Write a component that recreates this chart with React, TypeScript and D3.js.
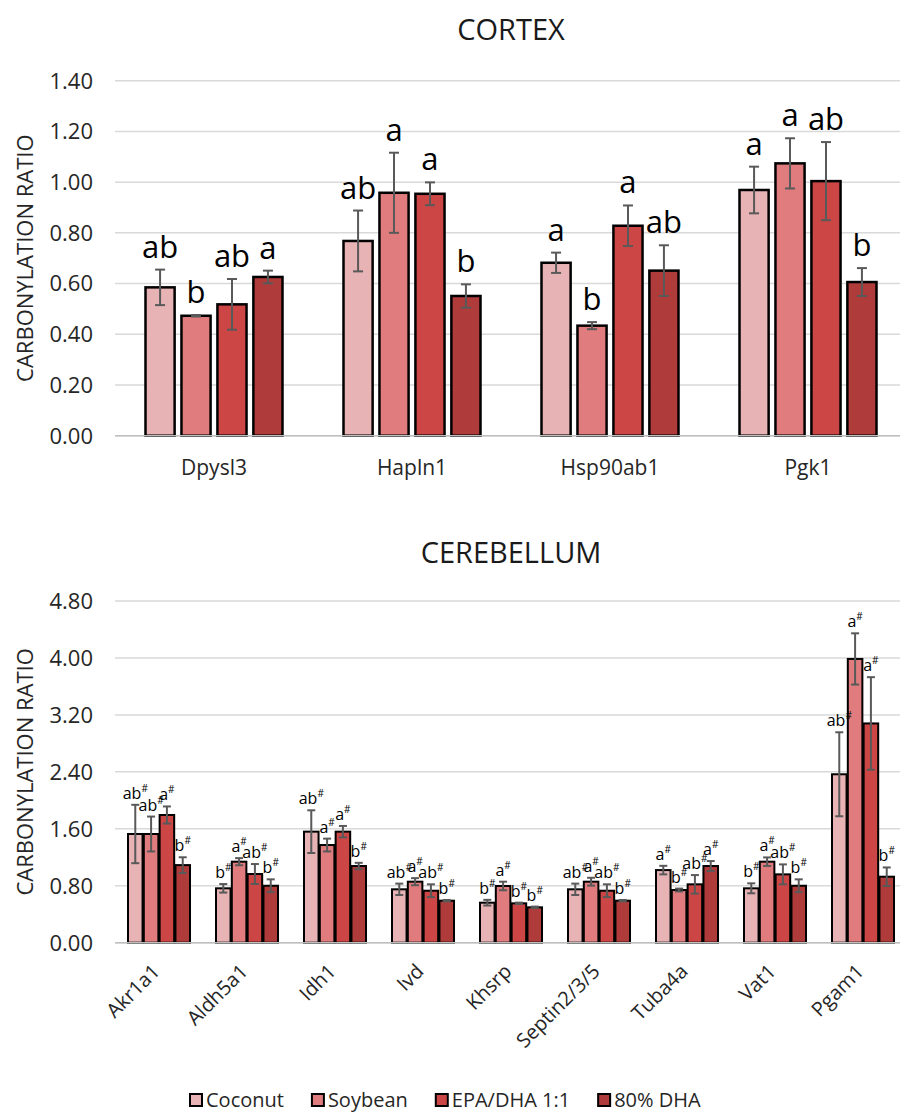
import { useEffect, useRef } from 'react';
import * as d3 from 'd3';

const diets = ['Coconut', 'Soybean', 'EPA/DHA 1:1', '80% DHA'];
const dietColors = ['#e8b3b4', '#e07c7d', '#cc4646', '#b03b3b'];

// cortex
const cortexGenes = ['Dpysl3', 'Hapln1', 'Hsp90ab1', 'Pgk1'];
const cortexTicks = [0, 0.2, 0.4, 0.6, 0.8, 1.0, 1.2, 1.4];
const cortexCoconut = [0.585, 0.768, 0.682, 0.969];
const cortexSoybean = [0.473, 0.958, 0.434, 1.074];
const cortexEpaDha = [0.518, 0.954, 0.828, 1.004];
const cortexDha80 = [0.626, 0.551, 0.651, 0.606];
const cortexCoconutErr = [0.07, 0.12, 0.04, 0.092];
const cortexSoybeanErr = [0.003, 0.158, 0.014, 0.099];
const cortexEpaDhaErr = [0.1, 0.045, 0.08, 0.154];
const cortexDha80Err = [0.025, 0.046, 0.1, 0.055];
const cortexCoconutSig = ['ab', 'ab', 'a', 'a'];
const cortexSoybeanSig = ['b', 'a', 'b', 'a'];
const cortexEpaDhaSig = ['ab', 'a', 'a', 'ab'];
const cortexDha80Sig = ['a', 'b', 'ab', 'b'];

// cerebellum
const cbGenes = ['Akr1a1', 'Aldh5a1', 'Idh1', 'Ivd', 'Khsrp', 'Septin2/3/5', 'Tuba4a', 'Vat1', 'Pgam1'];
const cbTicks = [0, 0.8, 1.6, 2.4, 3.2, 4.0, 4.8];
const cbCoconut = [1.527, 0.764, 1.56, 0.75, 0.562, 0.75, 1.02, 0.764, 2.366];
const cbSoybean = [1.527, 1.138, 1.372, 0.857, 0.797, 0.857, 0.74, 1.138, 3.986];
const cbEpaDha = [1.794, 0.965, 1.56, 0.73, 0.553, 0.73, 0.82, 0.96, 3.08];
const cbDha80 = [1.09, 0.8, 1.077, 0.59, 0.497, 0.59, 1.077, 0.8, 0.927];
const cbCoconutErr = [0.41, 0.06, 0.3, 0.08, 0.04, 0.08, 0.06, 0.07, 0.59];
const cbSoybeanErr = [0.245, 0.05, 0.09, 0.05, 0.06, 0.055, 0.02, 0.06, 0.36];
const cbEpaDhaErr = [0.12, 0.14, 0.08, 0.09, 0.01, 0.09, 0.13, 0.14, 0.65];
const cbDha80Err = [0.11, 0.09, 0.045, 0.01, 0.01, 0.01, 0.07, 0.09, 0.13];
const cbCoconutSig = ['ab', 'b', 'ab', 'ab', 'b', 'ab', 'a', 'b', 'ab'];
const cbSoybeanSig = ['ab', 'a', 'a', 'a', 'a', 'a', 'b', 'a', 'a'];
const cbEpaDhaSig = ['a', 'ab', 'a', 'ab', 'b', 'ab', 'ab', 'ab', 'a'];
const cbDha80Sig = ['b', 'b', 'b', 'b', 'b', 'b', 'a', 'b', 'b'];

const FONT = "'Open Sans', sans-serif";

const drawPanel = (svg, p) => {
    const g = svg.append('g');

    const x0 = d3.scaleBand().domain(p.genes).range([115, 907]);
    const x1 = d3.scaleBand()
        .domain(diets)
        .range([-p.groupW / 2, p.groupW / 2])
        .paddingInner(p.inner);
    const y = d3.scaleLinear().domain([0, p.max]).range([p.y0, p.y1]);

    // gridlines
    g.selectAll('.grid')
        .data(p.ticks)
        .enter().append('line')
        .attr('x1', 115).attr('x2', 907)
        .attr('y1', d => y(d)).attr('y2', d => y(d))
        .attr('stroke', '#d9d9d9')
        .attr('stroke-width', 1.5);

    g.selectAll('.ytick')
        .data(p.ticks)
        .enter().append('text')
        .attr('x', 93)
        .attr('y', d => y(d))
        .attr('dy', '0.36em')
        .attr('text-anchor', 'end')
        .attr('font-family', FONT)
        .attr('font-size', 22)
        .attr('fill', '#262626')
        .text(d3.format('.2f'));

    g.append('text')
        .attr('transform', `translate(33,${(p.y0 + p.y1) / 2}) rotate(-90)`)
        .attr('text-anchor', 'middle')
        .attr('font-family', FONT)
        .attr('font-size', 22)
        .attr('fill', '#262626')
        .text('CARBONYLATION RATIO');

    g.append('text')
        .attr('x', 511)
        .attr('y', p.titleY)
        .attr('text-anchor', 'middle')
        .attr('font-family', FONT)
        .attr('font-size', 29)
        .attr('fill', '#1a1a1a')
        .text(p.title);

    const rows = [];
    p.genes.forEach((gene, i) => {
        diets.forEach((diet, k) => {
            rows.push({
                gene, diet, k,
                v: p.values[k][i],
                e: p.errs[k][i],
                s: p.sigs[k][i],
            });
        });
    });
    const cx = d => x0(d.gene) + x0.bandwidth() / 2 + x1(d.diet);

    g.selectAll('.bar')
        .data(rows)
        .enter().append('rect')
        .attr('x', d => cx(d))
        .attr('y', d => y(d.v))
        .attr('width', x1.bandwidth())
        .attr('height', d => y(0) - y(d.v))
        .attr('fill', d => dietColors[d.k])
        .attr('stroke', '#000')
        .attr('stroke-width', p.stroke);

    const bw = x1.bandwidth() / 2;
    const eb = g.selectAll('.err')
        .data(rows)
        .enter().append('g')
        .attr('stroke', '#595959')
        .attr('stroke-width', 2);
    eb.append('line')
        .attr('x1', d => cx(d) + bw).attr('x2', d => cx(d) + bw)
        .attr('y1', d => y(d.v - d.e)).attr('y2', d => y(d.v + d.e));
    eb.append('line')
        .attr('x1', d => cx(d) + bw - p.cap).attr('x2', d => cx(d) + bw + p.cap)
        .attr('y1', d => y(d.v + d.e)).attr('y2', d => y(d.v + d.e));
    eb.append('line')
        .attr('x1', d => cx(d) + bw - p.cap).attr('x2', d => cx(d) + bw + p.cap)
        .attr('y1', d => y(d.v - d.e)).attr('y2', d => y(d.v - d.e));

    const lbl = g.selectAll('.sig')
        .data(rows)
        .enter().append('text')
        .attr('x', d => cx(d) + bw)
        .attr('y', d => y(d.v + d.e) - p.sigGap)
        .attr('text-anchor', 'middle')
        .attr('font-family', FONT)
        .attr('font-size', p.sigSize)
        .attr('fill', '#000');
    lbl.append('tspan').text(d => d.s);
    if (p.hash) {
        lbl.append('tspan')
            .attr('font-size', 10)
            .attr('dy', -7)
            .text('#');
    }

    // x axis baseline
    g.append('line')
        .attr('x1', 115).attr('x2', 907)
        .attr('y1', y(0)).attr('y2', y(0))
        .attr('stroke', '#bfbfbf')
        .attr('stroke-width', 1.5);

    if (p.rotate) {
        g.selectAll('.xlab')
            .data(p.genes)
            .enter().append('text')
            .attr('transform', d => `translate(${x0(d) + x0.bandwidth() / 2 + 2},${y(0) + 30}) rotate(-45)`)
            .attr('text-anchor', 'end')
            .attr('font-family', FONT)
            .attr('font-size', 20)
            .attr('fill', '#262626')
            .text(d => d);
    } else {
        g.selectAll('.xlab')
            .data(p.genes)
            .enter().append('text')
            .attr('x', d => x0(d) + x0.bandwidth() / 2)
            .attr('y', y(0) + 39)
            .attr('text-anchor', 'middle')
            .attr('font-family', FONT)
            .attr('font-size', 21)
            .attr('fill', '#262626')
            .text(d => d);
    }
};

const App = () => {
    const ref = useRef(null);

    useEffect(() => {
        document.body.style.margin = '0';
        const svg = d3.select(ref.current);
        svg.selectAll('*').remove();

        drawPanel(svg, {
            title: 'CORTEX', titleY: 40,
            genes: cortexGenes, ticks: cortexTicks, max: 1.4,
            y0: 435.7, y1: 80.7,
            values: [cortexCoconut, cortexSoybean, cortexEpaDha, cortexDha80],
            errs: [cortexCoconutErr, cortexSoybeanErr, cortexEpaDhaErr, cortexDha80Err],
            sigs: [cortexCoconutSig, cortexSoybeanSig, cortexEpaDhaSig, cortexDha80Sig],
            groupW: 137, inner: 0.19, stroke: 2.5, cap: 5,
            sigSize: 31, sigGap: 12, hash: false, rotate: false,
        });

        drawPanel(svg, {
            title: 'CEREBELLUM', titleY: 563,
            genes: cbGenes, ticks: cbTicks, max: 4.8,
            y0: 942.7, y1: 601,
            values: [cbCoconut, cbSoybean, cbEpaDha, cbDha80],
            errs: [cbCoconutErr, cbSoybeanErr, cbEpaDhaErr, cbDha80Err],
            sigs: [cbCoconutSig, cbSoybeanSig, cbEpaDhaSig, cbDha80Sig],
            groupW: 62, inner: 0.08, stroke: 2, cap: 4,
            sigSize: 16, sigGap: 6, hash: true, rotate: true,
        });

        // legend
        const legend = svg.append('g').attr('transform', 'translate(190,1100)');
        let lx = 0;
        diets.forEach((d, k) => {
            const item = legend.append('g').attr('transform', `translate(${lx},0)`);
            item.append('rect')
                .attr('x', 0).attr('y', -6)
                .attr('width', 12).attr('height', 12)
                .attr('fill', dietColors[k])
                .attr('stroke', '#000')
                .attr('stroke-width', 2);
            const t = item.append('text')
                .attr('x', 16)
                .attr('dy', '0.36em')
                .attr('font-family', FONT)
                .attr('font-size', 20)
                .attr('fill', '#262626')
                .text(d);
            lx += 16 + t.node().getComputedTextLength() + 28;
        });
    }, []);

    return <svg ref={ref} width={900} height={1113} style={{ display: 'block', background: '#fff' }}></svg>;
};

export default App;
